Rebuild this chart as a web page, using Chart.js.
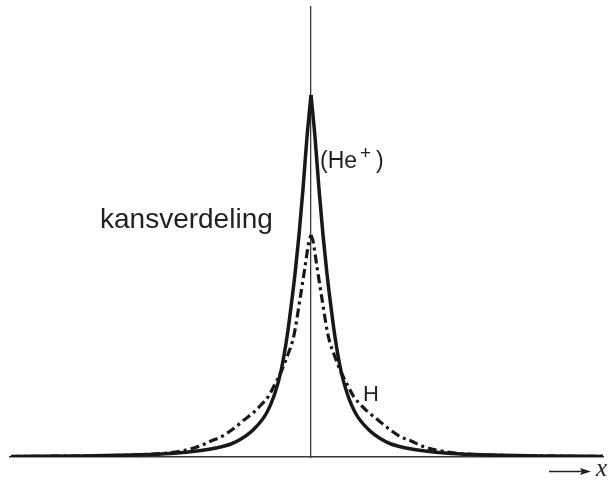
<!DOCTYPE html>
<html>
<head>
<meta charset="utf-8">
<script src="https://cdn.jsdelivr.net/npm/chart.js@4/dist/chart.umd.min.js"></script>
<style>
  html, body { margin: 0; padding: 0; background: #fff; }
  #wrap { width: 611px; height: 480px; }
</style>
</head>
<body>
<div id="wrap"><canvas id="kansChart" width="611" height="480"></canvas></div>
<script>
var afstandHe = [0, 4, 8, 12, 16, 20, 24, 30, 36, 45, 58, 70, 80, 95, 110, 140, 180, 230, 300];
var kansHe    = [362, 320, 268, 222, 183, 150, 120, 86, 64, 43, 27, 18, 13, 9, 6.5, 3.5, 2, 1, 0.5];

var afstandH = [0, 2, 6, 11, 17, 24, 30, 37, 43, 50, 57, 67, 78, 90, 100, 111, 125, 144, 178, 240, 300];
var kansH    = [222, 216, 190, 158, 122, 100, 85, 71, 60, 52, 45, 37, 28, 20, 16, 11, 7, 4, 2, 1, 0.5];

var xBereik = [-301, 292];
var yBereik = [0, 450];

// één helft van de kromme, links (teken -1) of rechts (teken 1) van de kern
function helft(afstand, kans, teken) {
    var punten = [];
    for (var i = 0; i < afstand.length; i++) {
        punten.push({ x: teken * afstand[i], y: kans[i] });
    }
    if (teken < 0) punten.reverse();
    return punten;
}

var lijnKleur = '#1a1718';

function heSet(teken) {
    return {
        label: 'He+',
        data: helft(afstandHe, kansHe, teken),
        borderColor: lijnKleur,
        borderWidth: 3.5,
        pointRadius: 0,
        cubicInterpolationMode: 'monotone',
        fill: false
    };
}

function hSet(teken) {
    return {
        label: 'H',
        data: helft(afstandH, kansH, teken),
        borderColor: lijnKleur,
        borderWidth: 3.2,
        borderDash: [9, 4, 3, 4],
        borderCapStyle: 'butt',
        pointRadius: 0,
        cubicInterpolationMode: 'monotone',
        fill: false
    };
}

// teksten en de pijl onder de x-as
var tekstPlugin = {
    id: 'teksten',
    afterDraw: function (chart) {
        var ctx = chart.ctx;
        ctx.save();
        ctx.fillStyle = '#231f20';
        ctx.textBaseline = 'alphabetic';

        ctx.font = '28px "Liberation Sans", Arial, sans-serif';
        ctx.fillText('kansverdeling', 100, 228);

        ctx.font = '23px "Liberation Sans", Arial, sans-serif';
        ctx.fillText('(He', 320, 167.5);
        ctx.fillText(')', 376, 167.5);
        ctx.font = '19px "Liberation Sans", Arial, sans-serif';
        ctx.fillText('+', 360, 159);

        ctx.font = '22px "Liberation Sans", Arial, sans-serif';
        ctx.fillText('H', 363, 401);

        // pijl
        ctx.strokeStyle = '#231f20';
        ctx.lineWidth = 1.3;
        ctx.beginPath();
        ctx.moveTo(549, 471.5);
        ctx.lineTo(584, 471.5);
        ctx.stroke();
        ctx.beginPath();
        ctx.moveTo(591, 471.5);
        ctx.lineTo(580, 468);
        ctx.lineTo(582, 471.5);
        ctx.lineTo(580, 475);
        ctx.closePath();
        ctx.fill();

        ctx.font = 'italic 25px "Liberation Serif", "Times New Roman", serif';
        ctx.fillText('x', 596, 476);
        ctx.restore();
    }
};

var ctx = document.getElementById('kansChart').getContext('2d');
var kansChart = new Chart(ctx, {
    type: 'line',
    data: {
        datasets: [heSet(-1), heSet(1), hSet(-1), hSet(1)]
    },
    options: {
        responsive: false,
        animation: false,
        events: [],
        layout: { padding: { left: 10, right: 8, top: 7, bottom: 23 } },
        plugins: {
            legend: { display: false },
            tooltip: { enabled: false }
        },
        scales: {
            x: {
                type: 'linear',
                min: xBereik[0],
                max: xBereik[1],
                position: { y: 0 },
                grid: { display: false },
                ticks: { display: false },
                border: { display: true, color: '#3a3738', width: 1.5 },
                afterFit: function (scale) { scale.height = 0; }
            },
            y: {
                type: 'linear',
                min: yBereik[0],
                max: yBereik[1],
                position: { x: 0 },
                grid: { display: false },
                ticks: { display: false },
                border: { display: true, color: '#3a3738', width: 1.3 },
                afterFit: function (scale) { scale.width = 0; }
            }
        }
    },
    plugins: [tekstPlugin]
});
</script>
</body>
</html>
